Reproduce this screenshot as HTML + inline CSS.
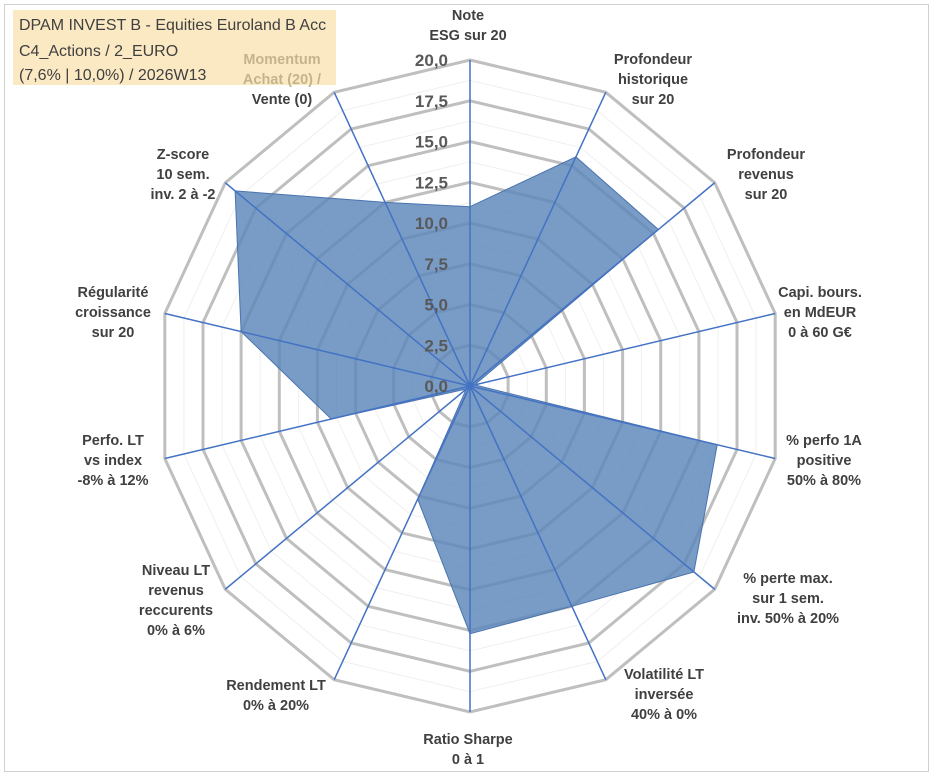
<!DOCTYPE html>
<html><head><meta charset="utf-8"><style>
html,body{margin:0;padding:0;background:#fff;}
svg{display:block;font-family:"Liberation Sans",sans-serif;}
</style></head><body>
<svg id="chart" width="933" height="776" viewBox="0 0 933 776" xmlns="http://www.w3.org/2000/svg">
<rect x="4.5" y="4.5" width="924" height="767" fill="#fff" stroke="#d0d0d0" stroke-width="1"/>
<rect x="13" y="10" width="323" height="75" fill="#fbe9c3"/>
<g font-family="'Liberation Sans',sans-serif" font-size="16" fill="#404040">
<text x="19" y="30">DPAM INVEST B - Equities Euroland B Acc</text>
<text x="19" y="56">C4_Actions / 2_EURO</text>
<text x="19" y="80">(7,6% | 10,0%) / 2026W13</text>
</g>
<g id="grid"></g>
<g id="series"></g>
<g id="axes"></g>
<g id="ticks"></g>
<g id="labels"></g>
</svg>
<script>
const categories = ["Note ESG","Profondeur historique","Profondeur revenus","Capi. bours.","% perfo 1A","% perte max.","Volatilité LT","Ratio Sharpe","Rendement LT","Niveau LT revenus","Perfo. LT","Régularité","Z-score","Momentum"];
const values = [11.0,15.6,15.4,0.3,16.2,18.3,15.0,15.2,7.7,0.3,9.1,15.0,19.2,12.5];
const tickLabels = ["0,0","2,5","5,0","7,5","10,0","12,5","15,0","17,5","20,0"];
const tickValues = [0,2.5,5,7.5,10,12.5,15,17.5,20];
const labelLines = [
 ["Note","ESG sur 20"],["Profondeur","historique","sur 20"],["Profondeur","revenus","sur 20"],
 ["Capi. bours.","en MdEUR","0 à 60 G€"],["% perfo 1A","positive","50% à 80%"],
 ["% perte max.","sur 1 sem.","inv. 50% à 20%"],["Volatilité LT","inversée","40% à 0%"],
 ["Ratio Sharpe","0 à 1"],["Rendement LT","0% à 20%"],["Niveau LT","revenus","reccurents","0% à 6%"],
 ["Perfo. LT","vs index","-8% à 12%"],["Régularité","croissance","sur 20"],["Z-score","10 sem.","inv. 2 à -2"],
 ["Momentum","Achat (20) /","Vente (0)"]];
const labelPos = [[468,20],[653,64],[766,159],[820,297],[824,445],[788,583],[664,679],[468,744],[276,690],[176,575],[113,445],[113,297],[183,159],[282,64]];
const NS="http://www.w3.org/2000/svg";
const cx=470, cy=386, Rx=313, Ry=326, vmax=20, N=categories.length;
function ang(i){return i*2*Math.PI/N;}
function px(i,v){return cx+Math.sin(ang(i))*v/vmax*Rx;}
function py(i,v){return cy-Math.cos(ang(i))*v/vmax*Ry;}
function mk(tag,attrs,parent){const e=document.createElementNS(NS,tag);for(const k in attrs)e.setAttribute(k,attrs[k]);parent.appendChild(e);return e;}
const grid=document.getElementById('grid');
for(let k=1;k<=16;k++){
 const v=k*1.25, major=k%2===0;
 const pts=categories.map((_,i)=>px(i,v).toFixed(1)+","+py(i,v).toFixed(1)).join(" ");
 const p=mk('polygon',{points:pts,fill:'none',stroke:major?'#bfbfbf':'#efefef','stroke-width':major?3:1},grid);
 
 
}
const series=document.getElementById('series');
const sp=mk('polygon',{points:values.map((v,i)=>px(i,v).toFixed(1)+","+py(i,v).toFixed(1)).join(" "),fill:'#5a86b8','fill-opacity':0.82,stroke:'#4a74b0','stroke-width':1},series);


const axes=document.getElementById('axes');
categories.forEach((c,i)=>{
 const l=mk('line',{x1:cx,y1:cy,x2:px(i,vmax),y2:py(i,vmax),stroke:'#4472c4','stroke-width':1.5},axes);
 
 
});
const ticks=document.getElementById('ticks');
tickValues.forEach((v,k)=>{
 const t=mk('text',{x:448,y:cy-v/vmax*Ry+6,'text-anchor':'end','font-size':17,'font-weight':'bold',fill:'#595959'},ticks);
 t.textContent=tickLabels[k];
 
 
});
const labels=document.getElementById('labels');
labelLines.forEach((lines,i)=>{
 const [x,y]=labelPos[i];
 const g=mk('g',{},labels);
 
 
 lines.forEach((s,j)=>{
  let col='#404040';
  if(i===13&&j<2)col='#c4b48c';
  const t=mk('text',{x:x,y:y+j*20,'text-anchor':'middle','font-size':14.5,'font-weight':'bold',fill:col},g);
  t.textContent=s;
  
  
 });
});
</script>
</body></html>
